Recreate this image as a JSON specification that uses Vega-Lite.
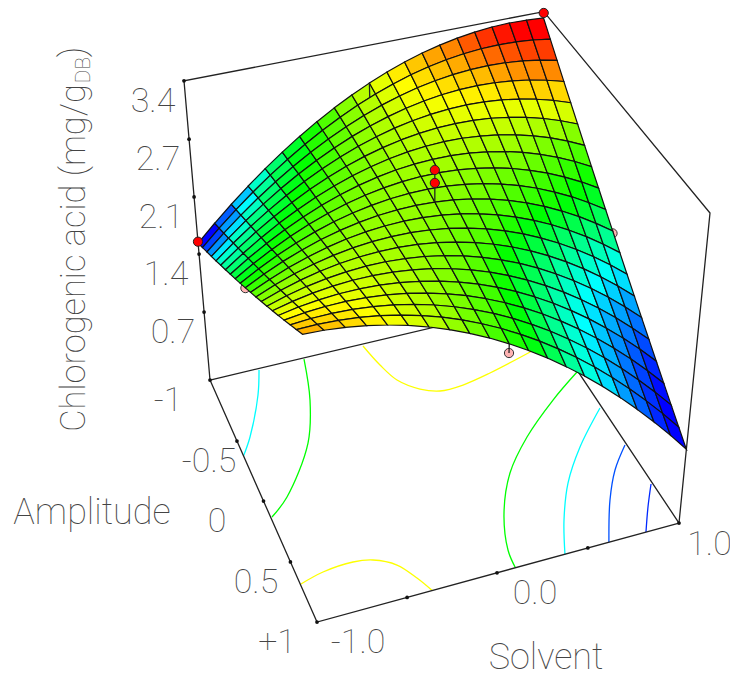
{"$schema":"https://vega.github.io/schema/vega-lite/v6.json","width":730,"height":676,"padding":0,"autosize":"none","background":"white","config":{"view":{"stroke":null}},
"data":{"values":[
{"s":-1,"a":-1,"v":1.553},{"s":-0.9,"a":-1,"v":1.745},{"s":-0.8,"a":-1,"v":1.926},{"s":-0.7,"a":-1,"v":2.096},{"s":-0.6,"a":-1,"v":2.256},{"s":-0.5,"a":-1,"v":2.404},{"s":-0.4,"a":-1,"v":2.542},{"s":-0.3,"a":-1,"v":2.669},{"s":-0.2,"a":-1,"v":2.785},{"s":-0.1,"a":-1,"v":2.89},{"s":0,"a":-1,"v":2.984},{"s":0.1,"a":-1,"v":3.067},{"s":0.2,"a":-1,"v":3.14},{"s":0.3,"a":-1,"v":3.202},{"s":0.4,"a":-1,"v":3.252},{"s":0.5,"a":-1,"v":3.292},{"s":0.6,"a":-1,"v":3.321},{"s":0.7,"a":-1,"v":3.34},{"s":0.8,"a":-1,"v":3.347},{"s":0.9,"a":-1,"v":3.343},{"s":1,"a":-1,"v":3.329},
{"s":-1,"a":-0.9,"v":1.623},{"s":-0.9,"a":-0.9,"v":1.808},{"s":-0.8,"a":-0.9,"v":1.981},{"s":-0.7,"a":-0.9,"v":2.143},{"s":-0.6,"a":-0.9,"v":2.295},{"s":-0.5,"a":-0.9,"v":2.434},{"s":-0.4,"a":-0.9,"v":2.563},{"s":-0.3,"a":-0.9,"v":2.681},{"s":-0.2,"a":-0.9,"v":2.787},{"s":-0.1,"a":-0.9,"v":2.882},{"s":0,"a":-0.9,"v":2.966},{"s":0.1,"a":-0.9,"v":3.039},{"s":0.2,"a":-0.9,"v":3.101},{"s":0.3,"a":-0.9,"v":3.151},{"s":0.4,"a":-0.9,"v":3.191},{"s":0.5,"a":-0.9,"v":3.219},{"s":0.6,"a":-0.9,"v":3.236},{"s":0.7,"a":-0.9,"v":3.242},{"s":0.8,"a":-0.9,"v":3.236},{"s":0.9,"a":-0.9,"v":3.22},{"s":1,"a":-0.9,"v":3.192},
{"s":-1,"a":-0.8,"v":1.694},{"s":-0.9,"a":-0.8,"v":1.871},{"s":-0.8,"a":-0.8,"v":2.037},{"s":-0.7,"a":-0.8,"v":2.191},{"s":-0.6,"a":-0.8,"v":2.333},{"s":-0.5,"a":-0.8,"v":2.464},{"s":-0.4,"a":-0.8,"v":2.584},{"s":-0.3,"a":-0.8,"v":2.692},{"s":-0.2,"a":-0.8,"v":2.788},{"s":-0.1,"a":-0.8,"v":2.874},{"s":0,"a":-0.8,"v":2.948},{"s":0.1,"a":-0.8,"v":3.01},{"s":0.2,"a":-0.8,"v":3.061},{"s":0.3,"a":-0.8,"v":3.1},{"s":0.4,"a":-0.8,"v":3.128},{"s":0.5,"a":-0.8,"v":3.145},{"s":0.6,"a":-0.8,"v":3.15},{"s":0.7,"a":-0.8,"v":3.144},{"s":0.8,"a":-0.8,"v":3.126},{"s":0.9,"a":-0.8,"v":3.097},{"s":1,"a":-0.8,"v":3.056},
{"s":-1,"a":-0.7,"v":1.766},{"s":-0.9,"a":-0.7,"v":1.935},{"s":-0.8,"a":-0.7,"v":2.092},{"s":-0.7,"a":-0.7,"v":2.238},{"s":-0.6,"a":-0.7,"v":2.372},{"s":-0.5,"a":-0.7,"v":2.494},{"s":-0.4,"a":-0.7,"v":2.604},{"s":-0.3,"a":-0.7,"v":2.703},{"s":-0.2,"a":-0.7,"v":2.79},{"s":-0.1,"a":-0.7,"v":2.865},{"s":0,"a":-0.7,"v":2.928},{"s":0.1,"a":-0.7,"v":2.98},{"s":0.2,"a":-0.7,"v":3.02},{"s":0.3,"a":-0.7,"v":3.049},{"s":0.4,"a":-0.7,"v":3.066},{"s":0.5,"a":-0.7,"v":3.071},{"s":0.6,"a":-0.7,"v":3.064},{"s":0.7,"a":-0.7,"v":3.046},{"s":0.8,"a":-0.7,"v":3.016},{"s":0.9,"a":-0.7,"v":2.974},{"s":1,"a":-0.7,"v":2.921},
{"s":-1,"a":-0.6,"v":1.839},{"s":-0.9,"a":-0.6,"v":2.0},{"s":-0.8,"a":-0.6,"v":2.148},{"s":-0.7,"a":-0.6,"v":2.285},{"s":-0.6,"a":-0.6,"v":2.41},{"s":-0.5,"a":-0.6,"v":2.523},{"s":-0.4,"a":-0.6,"v":2.624},{"s":-0.3,"a":-0.6,"v":2.713},{"s":-0.2,"a":-0.6,"v":2.79},{"s":-0.1,"a":-0.6,"v":2.855},{"s":0,"a":-0.6,"v":2.909},{"s":0.1,"a":-0.6,"v":2.95},{"s":0.2,"a":-0.6,"v":2.979},{"s":0.3,"a":-0.6,"v":2.997},{"s":0.4,"a":-0.6,"v":3.003},{"s":0.5,"a":-0.6,"v":2.996},{"s":0.6,"a":-0.6,"v":2.978},{"s":0.7,"a":-0.6,"v":2.948},{"s":0.8,"a":-0.6,"v":2.906},{"s":0.9,"a":-0.6,"v":2.852},{"s":1,"a":-0.6,"v":2.786},
{"s":-1,"a":-0.5,"v":1.913},{"s":-0.9,"a":-0.5,"v":2.065},{"s":-0.8,"a":-0.5,"v":2.205},{"s":-0.7,"a":-0.5,"v":2.332},{"s":-0.6,"a":-0.5,"v":2.448},{"s":-0.5,"a":-0.5,"v":2.552},{"s":-0.4,"a":-0.5,"v":2.643},{"s":-0.3,"a":-0.5,"v":2.723},{"s":-0.2,"a":-0.5,"v":2.79},{"s":-0.1,"a":-0.5,"v":2.845},{"s":0,"a":-0.5,"v":2.888},{"s":0.1,"a":-0.5,"v":2.919},{"s":0.2,"a":-0.5,"v":2.938},{"s":0.3,"a":-0.5,"v":2.944},{"s":0.4,"a":-0.5,"v":2.939},{"s":0.5,"a":-0.5,"v":2.922},{"s":0.6,"a":-0.5,"v":2.892},{"s":0.7,"a":-0.5,"v":2.85},{"s":0.8,"a":-0.5,"v":2.797},{"s":0.9,"a":-0.5,"v":2.731},{"s":1,"a":-0.5,"v":2.653},
{"s":-1,"a":-0.4,"v":1.987},{"s":-0.9,"a":-0.4,"v":2.13},{"s":-0.8,"a":-0.4,"v":2.261},{"s":-0.7,"a":-0.4,"v":2.38},{"s":-0.6,"a":-0.4,"v":2.486},{"s":-0.5,"a":-0.4,"v":2.58},{"s":-0.4,"a":-0.4,"v":2.662},{"s":-0.3,"a":-0.4,"v":2.732},{"s":-0.2,"a":-0.4,"v":2.789},{"s":-0.1,"a":-0.4,"v":2.834},{"s":0,"a":-0.4,"v":2.867},{"s":0.1,"a":-0.4,"v":2.887},{"s":0.2,"a":-0.4,"v":2.896},{"s":0.3,"a":-0.4,"v":2.892},{"s":0.4,"a":-0.4,"v":2.875},{"s":0.5,"a":-0.4,"v":2.847},{"s":0.6,"a":-0.4,"v":2.806},{"s":0.7,"a":-0.4,"v":2.753},{"s":0.8,"a":-0.4,"v":2.688},{"s":0.9,"a":-0.4,"v":2.61},{"s":1,"a":-0.4,"v":2.52},
{"s":-1,"a":-0.3,"v":2.062},{"s":-0.9,"a":-0.3,"v":2.197},{"s":-0.8,"a":-0.3,"v":2.318},{"s":-0.7,"a":-0.3,"v":2.427},{"s":-0.6,"a":-0.3,"v":2.524},{"s":-0.5,"a":-0.3,"v":2.609},{"s":-0.4,"a":-0.3,"v":2.681},{"s":-0.3,"a":-0.3,"v":2.741},{"s":-0.2,"a":-0.3,"v":2.788},{"s":-0.1,"a":-0.3,"v":2.823},{"s":0,"a":-0.3,"v":2.845},{"s":0.1,"a":-0.3,"v":2.855},{"s":0.2,"a":-0.3,"v":2.853},{"s":0.3,"a":-0.3,"v":2.838},{"s":0.4,"a":-0.3,"v":2.811},{"s":0.5,"a":-0.3,"v":2.772},{"s":0.6,"a":-0.3,"v":2.72},{"s":0.7,"a":-0.3,"v":2.656},{"s":0.8,"a":-0.3,"v":2.579},{"s":0.9,"a":-0.3,"v":2.49},{"s":1,"a":-0.3,"v":2.388},
{"s":-1,"a":-0.2,"v":2.138},{"s":-0.9,"a":-0.2,"v":2.263},{"s":-0.8,"a":-0.2,"v":2.375},{"s":-0.7,"a":-0.2,"v":2.475},{"s":-0.6,"a":-0.2,"v":2.562},{"s":-0.5,"a":-0.2,"v":2.637},{"s":-0.4,"a":-0.2,"v":2.699},{"s":-0.3,"a":-0.2,"v":2.749},{"s":-0.2,"a":-0.2,"v":2.786},{"s":-0.1,"a":-0.2,"v":2.811},{"s":0,"a":-0.2,"v":2.823},{"s":0.1,"a":-0.2,"v":2.822},{"s":0.2,"a":-0.2,"v":2.81},{"s":0.3,"a":-0.2,"v":2.784},{"s":0.4,"a":-0.2,"v":2.746},{"s":0.5,"a":-0.2,"v":2.696},{"s":0.6,"a":-0.2,"v":2.633},{"s":0.7,"a":-0.2,"v":2.558},{"s":0.8,"a":-0.2,"v":2.47},{"s":0.9,"a":-0.2,"v":2.37},{"s":1,"a":-0.2,"v":2.257},
{"s":-1,"a":-0.1,"v":2.215},{"s":-0.9,"a":-0.1,"v":2.33},{"s":-0.8,"a":-0.1,"v":2.433},{"s":-0.7,"a":-0.1,"v":2.523},{"s":-0.6,"a":-0.1,"v":2.6},{"s":-0.5,"a":-0.1,"v":2.665},{"s":-0.4,"a":-0.1,"v":2.717},{"s":-0.3,"a":-0.1,"v":2.756},{"s":-0.2,"a":-0.1,"v":2.783},{"s":-0.1,"a":-0.1,"v":2.798},{"s":0,"a":-0.1,"v":2.8},{"s":0.1,"a":-0.1,"v":2.789},{"s":0.2,"a":-0.1,"v":2.766},{"s":0.3,"a":-0.1,"v":2.73},{"s":0.4,"a":-0.1,"v":2.681},{"s":0.5,"a":-0.1,"v":2.62},{"s":0.6,"a":-0.1,"v":2.547},{"s":0.7,"a":-0.1,"v":2.46},{"s":0.8,"a":-0.1,"v":2.362},{"s":0.9,"a":-0.1,"v":2.25},{"s":1,"a":-0.1,"v":2.127},
{"s":-1,"a":0,"v":2.293},{"s":-0.9,"a":0,"v":2.398},{"s":-0.8,"a":0,"v":2.491},{"s":-0.7,"a":0,"v":2.57},{"s":-0.6,"a":0,"v":2.638},{"s":-0.5,"a":0,"v":2.692},{"s":-0.4,"a":0,"v":2.734},{"s":-0.3,"a":0,"v":2.764},{"s":-0.2,"a":0,"v":2.78},{"s":-0.1,"a":0,"v":2.785},{"s":0,"a":0,"v":2.776},{"s":0.1,"a":0,"v":2.755},{"s":0.2,"a":0,"v":2.721},{"s":0.3,"a":0,"v":2.675},{"s":0.4,"a":0,"v":2.616},{"s":0.5,"a":0,"v":2.544},{"s":0.6,"a":0,"v":2.46},{"s":0.7,"a":0,"v":2.363},{"s":0.8,"a":0,"v":2.254},{"s":0.9,"a":0,"v":2.132},{"s":1,"a":0,"v":1.997},
{"s":-1,"a":0.1,"v":2.372},{"s":-0.9,"a":0.1,"v":2.466},{"s":-0.8,"a":0.1,"v":2.549},{"s":-0.7,"a":0.1,"v":2.618},{"s":-0.6,"a":0.1,"v":2.675},{"s":-0.5,"a":0.1,"v":2.72},{"s":-0.4,"a":0.1,"v":2.751},{"s":-0.3,"a":0.1,"v":2.77},{"s":-0.2,"a":0.1,"v":2.777},{"s":-0.1,"a":0.1,"v":2.771},{"s":0,"a":0.1,"v":2.752},{"s":0.1,"a":0.1,"v":2.72},{"s":0.2,"a":0.1,"v":2.676},{"s":0.3,"a":0.1,"v":2.619},{"s":0.4,"a":0.1,"v":2.55},{"s":0.5,"a":0.1,"v":2.468},{"s":0.6,"a":0.1,"v":2.373},{"s":0.7,"a":0.1,"v":2.266},{"s":0.8,"a":0.1,"v":2.146},{"s":0.9,"a":0.1,"v":2.013},{"s":1,"a":0.1,"v":1.868},
{"s":-1,"a":0.2,"v":2.451},{"s":-0.9,"a":0.2,"v":2.535},{"s":-0.8,"a":0.2,"v":2.607},{"s":-0.7,"a":0.2,"v":2.666},{"s":-0.6,"a":0.2,"v":2.713},{"s":-0.5,"a":0.2,"v":2.747},{"s":-0.4,"a":0.2,"v":2.768},{"s":-0.3,"a":0.2,"v":2.776},{"s":-0.2,"a":0.2,"v":2.773},{"s":-0.1,"a":0.2,"v":2.756},{"s":0,"a":0.2,"v":2.727},{"s":0.1,"a":0.2,"v":2.685},{"s":0.2,"a":0.2,"v":2.63},{"s":0.3,"a":0.2,"v":2.563},{"s":0.4,"a":0.2,"v":2.484},{"s":0.5,"a":0.2,"v":2.391},{"s":0.6,"a":0.2,"v":2.286},{"s":0.7,"a":0.2,"v":2.169},{"s":0.8,"a":0.2,"v":2.039},{"s":0.9,"a":0.2,"v":1.896},{"s":1,"a":0.2,"v":1.74},
{"s":-1,"a":0.3,"v":2.531},{"s":-0.9,"a":0.3,"v":2.605},{"s":-0.8,"a":0.3,"v":2.666},{"s":-0.7,"a":0.3,"v":2.714},{"s":-0.6,"a":0.3,"v":2.75},{"s":-0.5,"a":0.3,"v":2.773},{"s":-0.4,"a":0.3,"v":2.784},{"s":-0.3,"a":0.3,"v":2.782},{"s":-0.2,"a":0.3,"v":2.768},{"s":-0.1,"a":0.3,"v":2.741},{"s":0,"a":0.3,"v":2.701},{"s":0.1,"a":0.3,"v":2.649},{"s":0.2,"a":0.3,"v":2.584},{"s":0.3,"a":0.3,"v":2.507},{"s":0.4,"a":0.3,"v":2.417},{"s":0.5,"a":0.3,"v":2.315},{"s":0.6,"a":0.3,"v":2.2},{"s":0.7,"a":0.3,"v":2.072},{"s":0.8,"a":0.3,"v":1.932},{"s":0.9,"a":0.3,"v":1.779},{"s":1,"a":0.3,"v":1.613},
{"s":-1,"a":0.4,"v":2.612},{"s":-0.9,"a":0.4,"v":2.675},{"s":-0.8,"a":0.4,"v":2.725},{"s":-0.7,"a":0.4,"v":2.762},{"s":-0.6,"a":0.4,"v":2.787},{"s":-0.5,"a":0.4,"v":2.8},{"s":-0.4,"a":0.4,"v":2.8},{"s":-0.3,"a":0.4,"v":2.787},{"s":-0.2,"a":0.4,"v":2.762},{"s":-0.1,"a":0.4,"v":2.725},{"s":0,"a":0.4,"v":2.675},{"s":0.1,"a":0.4,"v":2.612},{"s":0.2,"a":0.4,"v":2.537},{"s":0.3,"a":0.4,"v":2.45},{"s":0.4,"a":0.4,"v":2.35},{"s":0.5,"a":0.4,"v":2.237},{"s":0.6,"a":0.4,"v":2.112},{"s":0.7,"a":0.4,"v":1.975},{"s":0.8,"a":0.4,"v":1.825},{"s":0.9,"a":0.4,"v":1.662},{"s":1,"a":0.4,"v":1.487},
{"s":-1,"a":0.5,"v":2.694},{"s":-0.9,"a":0.5,"v":2.745},{"s":-0.8,"a":0.5,"v":2.784},{"s":-0.7,"a":0.5,"v":2.81},{"s":-0.6,"a":0.5,"v":2.824},{"s":-0.5,"a":0.5,"v":2.826},{"s":-0.4,"a":0.5,"v":2.815},{"s":-0.3,"a":0.5,"v":2.792},{"s":-0.2,"a":0.5,"v":2.756},{"s":-0.1,"a":0.5,"v":2.708},{"s":0,"a":0.5,"v":2.648},{"s":0.1,"a":0.5,"v":2.575},{"s":0.2,"a":0.5,"v":2.49},{"s":0.3,"a":0.5,"v":2.392},{"s":0.4,"a":0.5,"v":2.282},{"s":0.5,"a":0.5,"v":2.16},{"s":0.6,"a":0.5,"v":2.025},{"s":0.7,"a":0.5,"v":1.878},{"s":0.8,"a":0.5,"v":1.718},{"s":0.9,"a":0.5,"v":1.546},{"s":1,"a":0.5,"v":1.362},
{"s":-1,"a":0.6,"v":2.776},{"s":-0.9,"a":0.6,"v":2.816},{"s":-0.8,"a":0.6,"v":2.843},{"s":-0.7,"a":0.6,"v":2.858},{"s":-0.6,"a":0.6,"v":2.861},{"s":-0.5,"a":0.6,"v":2.852},{"s":-0.4,"a":0.6,"v":2.83},{"s":-0.3,"a":0.6,"v":2.796},{"s":-0.2,"a":0.6,"v":2.75},{"s":-0.1,"a":0.6,"v":2.691},{"s":0,"a":0.6,"v":2.621},{"s":0.1,"a":0.6,"v":2.537},{"s":0.2,"a":0.6,"v":2.442},{"s":0.3,"a":0.6,"v":2.334},{"s":0.4,"a":0.6,"v":2.215},{"s":0.5,"a":0.6,"v":2.082},{"s":0.6,"a":0.6,"v":1.938},{"s":0.7,"a":0.6,"v":1.781},{"s":0.8,"a":0.6,"v":1.612},{"s":0.9,"a":0.6,"v":1.431},{"s":1,"a":0.6,"v":1.237},
{"s":-1,"a":0.7,"v":2.86},{"s":-0.9,"a":0.7,"v":2.888},{"s":-0.8,"a":0.7,"v":2.903},{"s":-0.7,"a":0.7,"v":2.907},{"s":-0.6,"a":0.7,"v":2.898},{"s":-0.5,"a":0.7,"v":2.878},{"s":-0.4,"a":0.7,"v":2.845},{"s":-0.3,"a":0.7,"v":2.8},{"s":-0.2,"a":0.7,"v":2.743},{"s":-0.1,"a":0.7,"v":2.674},{"s":0,"a":0.7,"v":2.592},{"s":0.1,"a":0.7,"v":2.499},{"s":0.2,"a":0.7,"v":2.394},{"s":0.3,"a":0.7,"v":2.276},{"s":0.4,"a":0.7,"v":2.146},{"s":0.5,"a":0.7,"v":2.004},{"s":0.6,"a":0.7,"v":1.85},{"s":0.7,"a":0.7,"v":1.684},{"s":0.8,"a":0.7,"v":1.506},{"s":0.9,"a":0.7,"v":1.316},{"s":1,"a":0.7,"v":1.113},
{"s":-1,"a":0.8,"v":2.944},{"s":-0.9,"a":0.8,"v":2.96},{"s":-0.8,"a":0.8,"v":2.963},{"s":-0.7,"a":0.8,"v":2.955},{"s":-0.6,"a":0.8,"v":2.935},{"s":-0.5,"a":0.8,"v":2.903},{"s":-0.4,"a":0.8,"v":2.859},{"s":-0.3,"a":0.8,"v":2.803},{"s":-0.2,"a":0.8,"v":2.735},{"s":-0.1,"a":0.8,"v":2.655},{"s":0,"a":0.8,"v":2.564},{"s":0.1,"a":0.8,"v":2.46},{"s":0.2,"a":0.8,"v":2.344},{"s":0.3,"a":0.8,"v":2.217},{"s":0.4,"a":0.8,"v":2.077},{"s":0.5,"a":0.8,"v":1.926},{"s":0.6,"a":0.8,"v":1.763},{"s":0.7,"a":0.8,"v":1.588},{"s":0.8,"a":0.8,"v":1.4},{"s":0.9,"a":0.8,"v":1.201},{"s":1,"a":0.8,"v":0.99},
{"s":-1,"a":0.9,"v":3.029},{"s":-0.9,"a":0.9,"v":3.032},{"s":-0.8,"a":0.9,"v":3.024},{"s":-0.7,"a":0.9,"v":3.004},{"s":-0.6,"a":0.9,"v":2.972},{"s":-0.5,"a":0.9,"v":2.928},{"s":-0.4,"a":0.9,"v":2.873},{"s":-0.3,"a":0.9,"v":2.806},{"s":-0.2,"a":0.9,"v":2.727},{"s":-0.1,"a":0.9,"v":2.636},{"s":0,"a":0.9,"v":2.534},{"s":0.1,"a":0.9,"v":2.42},{"s":0.2,"a":0.9,"v":2.295},{"s":0.3,"a":0.9,"v":2.157},{"s":0.4,"a":0.9,"v":2.008},{"s":0.5,"a":0.9,"v":1.848},{"s":0.6,"a":0.9,"v":1.675},{"s":0.7,"a":0.9,"v":1.491},{"s":0.8,"a":0.9,"v":1.295},{"s":0.9,"a":0.9,"v":1.088},{"s":1,"a":0.9,"v":0.868},
{"s":-1,"a":1,"v":3.115},{"s":-0.9,"a":1,"v":3.106},{"s":-0.8,"a":1,"v":3.084},{"s":-0.7,"a":1,"v":3.052},{"s":-0.6,"a":1,"v":3.008},{"s":-0.5,"a":1,"v":2.953},{"s":-0.4,"a":1,"v":2.886},{"s":-0.3,"a":1,"v":2.808},{"s":-0.2,"a":1,"v":2.718},{"s":-0.1,"a":1,"v":2.617},{"s":0,"a":1,"v":2.504},{"s":0.1,"a":1,"v":2.38},{"s":0.2,"a":1,"v":2.245},{"s":0.3,"a":1,"v":2.097},{"s":0.4,"a":1,"v":1.939},{"s":0.5,"a":1,"v":1.769},{"s":0.6,"a":1,"v":1.587},{"s":0.7,"a":1,"v":1.394},{"s":0.8,"a":1,"v":1.19},{"s":0.9,"a":1,"v":0.975},{"s":1,"a":1,"v":0.747},
{"k":"box","g":1,"n":0,"s":-1,"a":-1,"v":-0.186},{"k":"box","g":1,"n":1,"s":-1,"a":1,"v":-0.186},{"k":"box","g":1,"n":2,"s":1,"a":1,"v":-0.186},{"k":"box","g":1,"n":3,"s":1,"a":-1,"v":-0.186},{"k":"box","g":1,"n":4,"s":-1,"a":-1,"v":-0.186},
{"k":"box","g":2,"n":0,"s":-1,"a":-1,"v":-0.186},{"k":"box","g":2,"n":1,"s":-1,"a":-1,"v":3.4},{"k":"box","g":2,"n":2,"s":1,"a":-1,"v":3.4},{"k":"box","g":2,"n":3,"s":1,"a":1,"v":3.4},{"k":"box","g":2,"n":4,"s":1,"a":1,"v":-0.186},
{"k":"tick","s":-1,"a":-1,"v":-0.186},{"k":"tick","s":-1,"a":-1,"v":0.7},{"k":"tick","s":-1,"a":-1,"v":1.42},{"k":"tick","s":-1,"a":-1,"v":2.1},{"k":"tick","s":-1,"a":-1,"v":2.76},{"k":"tick","s":-1,"a":-1,"v":3.4},
{"k":"tick","s":-1,"a":-0.443,"v":-0.186},{"k":"tick","s":-1,"a":0.068,"v":-0.186},{"k":"tick","s":-1,"a":0.552,"v":-0.186},{"k":"tick","s":-1,"a":1,"v":-0.186},
{"k":"tick","s":-0.522,"a":1,"v":-0.186},{"k":"tick","s":-0.032,"a":1,"v":-0.186},{"k":"tick","s":0.476,"a":1,"v":-0.186},{"k":"tick","s":1,"a":1,"v":-0.186},
{"k":"c","g":1,"l":1.39,"n":0,"s":-0.7122,"a":-0.9868,"v":-0.186},{"k":"c","g":1,"l":1.39,"n":1,"s":-0.7806,"a":-0.7766,"v":-0.186},{"k":"c","g":1,"l":1.39,"n":2,"s":-0.9234,"a":-0.4494,"v":-0.186},{"k":"c","g":1,"l":1.39,"n":3,"s":-1,"a":-0.3132,"v":-0.186},
{"k":"c","g":2,"l":2.04,"n":0,"s":-0.44,"a":-0.9902,"v":-0.186},{"k":"c","g":2,"l":2.04,"n":1,"s":-0.5178,"a":-0.6312,"v":-0.186},{"k":"c","g":2,"l":2.04,"n":2,"s":-0.6382,"a":-0.289,"v":-0.186},{"k":"c","g":2,"l":2.04,"n":3,"s":-0.8736,"a":0.0824,"v":-0.186},{"k":"c","g":2,"l":2.04,"n":4,"s":-0.993,"a":0.2008,"v":-0.186},
{"k":"c","g":3,"l":2.68,"n":0,"s":-0.0818,"a":-0.9824,"v":-0.186},{"k":"c","g":3,"l":2.68,"n":1,"s":-0.046,"a":-0.7836,"v":-0.186},{"k":"c","g":3,"l":2.68,"n":2,"s":0.001,"a":-0.6228,"v":-0.186},{"k":"c","g":3,"l":2.68,"n":3,"s":0.0968,"a":-0.502,"v":-0.186},{"k":"c","g":3,"l":2.68,"n":4,"s":0.1972,"a":-0.4454,"v":-0.186},{"k":"c","g":3,"l":2.68,"n":5,"s":0.3384,"a":-0.4484,"v":-0.186},{"k":"c","g":3,"l":2.68,"n":6,"s":0.5216,"a":-0.493,"v":-0.186},{"k":"c","g":3,"l":2.68,"n":7,"s":0.8238,"a":-0.592,"v":-0.186},
{"k":"c","g":4,"l":2.68,"n":0,"s":-0.9962,"a":0.7216,"v":-0.186},{"k":"c","g":4,"l":2.68,"n":1,"s":-0.865,"a":0.6802,"v":-0.186},{"k":"c","g":4,"l":2.68,"n":2,"s":-0.6982,"a":0.6666,"v":-0.186},{"k":"c","g":4,"l":2.68,"n":3,"s":-0.597,"a":0.6894,"v":-0.186},{"k":"c","g":4,"l":2.68,"n":4,"s":-0.4932,"a":0.767,"v":-0.186},{"k":"c","g":4,"l":2.68,"n":5,"s":-0.4286,"a":0.8902,"v":-0.186},{"k":"c","g":4,"l":2.68,"n":6,"s":-0.3862,"a":1,"v":-0.186},
{"k":"c","g":5,"l":2.04,"n":0,"s":0.9928,"a":-0.325,"v":-0.186},{"k":"c","g":5,"l":2.04,"n":1,"s":0.7674,"a":-0.1468,"v":-0.186},{"k":"c","g":5,"l":2.04,"n":2,"s":0.5102,"a":0.0908,"v":-0.186},{"k":"c","g":5,"l":2.04,"n":3,"s":0.3124,"a":0.3282,"v":-0.186},{"k":"c","g":5,"l":2.04,"n":4,"s":0.1658,"a":0.605,"v":-0.186},{"k":"c","g":5,"l":2.04,"n":5,"s":0.0822,"a":0.8678,"v":-0.186},{"k":"c","g":5,"l":2.04,"n":6,"s":0.07,"a":1,"v":-0.186},
{"k":"c","g":6,"l":1.39,"n":0,"s":0.9876,"a":0.0096,"v":-0.186},{"k":"c","g":6,"l":1.39,"n":1,"s":0.7514,"a":0.2696,"v":-0.186},{"k":"c","g":6,"l":1.39,"n":2,"s":0.575,"a":0.5116,"v":-0.186},{"k":"c","g":6,"l":1.39,"n":3,"s":0.4422,"a":0.7658,"v":-0.186},{"k":"c","g":6,"l":1.39,"n":4,"s":0.3468,"a":1,"v":-0.186},
{"k":"c","g":7,"l":0.95,"n":0,"s":0.9896,"a":0.3418,"v":-0.186},{"k":"c","g":7,"l":0.95,"n":1,"s":0.8546,"a":0.507,"v":-0.186},{"k":"c","g":7,"l":0.95,"n":2,"s":0.732,"a":0.7122,"v":-0.186},{"k":"c","g":7,"l":0.95,"n":3,"s":0.596,"a":1,"v":-0.186},
{"k":"c","g":8,"l":0.85,"n":0,"s":0.99,"a":0.6764,"v":-0.186},{"k":"c","g":8,"l":0.85,"n":1,"s":0.8988,"a":0.8324,"v":-0.186},{"k":"c","g":8,"l":0.85,"n":2,"s":0.8086,"a":1,"v":-0.186},
{"k":"pink","s":-1,"a":0,"v":2.29},{"k":"pink","s":0,"a":1,"v":2.404},{"k":"pink","s":1,"a":0,"v":1.97},
{"k":"red","s":-1,"a":-1,"v":1.57},{"k":"red","s":1,"a":-1,"v":3.385},{"k":"red","s":0,"a":0,"v":3.123},{"k":"red","s":0,"a":0,"v":2.984},
{"k":"stem","g":1,"n":0,"s":0,"a":0,"v":3.123},{"k":"stem","g":1,"n":1,"s":0,"a":0,"v":2.776},
{"k":"stem","g":2,"n":0,"s":0,"a":-1,"v":2.984},{"k":"stem","g":2,"n":1,"s":0,"a":-1,"v":2.826},
{"k":"stem","g":3,"n":0,"s":0,"a":1,"v":2.404},{"k":"stem","g":3,"n":1,"s":0,"a":1,"v":2.504},
{"k":"lab","t":"-1","s":-1.2712,"a":-0.9058,"v":-0.186},{"k":"lab","t":"-0.5","s":-1.19,"a":-0.3318,"v":-0.186},{"k":"lab","t":"0","s":-1.2752,"a":0.1348,"v":-0.186},{"k":"lab","t":"0.5","s":-1.2088,"a":0.634,"v":-0.186},{"k":"lab","t":"+1","s":-1.2278,"a":1.064,"v":-0.186},{"k":"name","t":"Amplitude","s":-1.8766,"a":-0.1644,"v":-0.186},
{"k":"lab","t":"-1.0","s":-0.8534,"a":1.205,"v":-0.186},{"k":"lab","t":"0.0","s":0.0926,"a":1.2066,"v":-0.186},{"k":"lab","t":"1.0","s":1.078,"a":1.2016,"v":-0.186},{"k":"name","t":"Solvent","s":-0.0226,"a":1.623,"v":-0.186},
{"k":"lab","t":"3.4","s":-0.5764,"a":-3.9994,"v":-0.186},{"k":"lab","t":"2.7","s":-0.7208,"a":-3.2944,"v":-0.186},{"k":"lab","t":"2.1","s":-0.8658,"a":-2.6482,"v":-0.186},{"k":"lab","t":"1.4","s":-0.9862,"a":-2.0556,"v":-0.186},{"k":"lab","t":"0.7","s":-1.0894,"a":-1.4916,"v":-0.186},
{"k":"title","t":"Chlorogenic acid (mg/g","s":-1.4682,"a":-2.4228,"v":-0.186},{"k":"title","t":")","s":-0.9398,"a":-4.8442,"v":-0.186},{"k":"sub","t":"DB","s":-0.9272,"a":-4.5786,"v":-0.186}
]},
"transform":[
{"calculate":"datum.v*0.2789+0.0518","as":"Z"},
{"calculate":"(datum.s+1)/2","as":"S"},
{"calculate":"(datum.a+1)/2","as":"A"},
{"calculate":"1+0.04764*datum.S-0.12695*datum.A-0.10369*datum.Z","as":"w"},
{"calculate":"(348.39*datum.S+66.76*datum.A-45.08*datum.Z+210)/datum.w","as":"px"},
{"calculate":"(-61.52*datum.S+163.04*datum.A-307.5*datum.Z+380)/datum.w","as":"py"}
],
"encoding":{
"x":{"field":"px","type":"quantitative","scale":{"domain":[0,730],"nice":false,"zero":false},"axis":null},
"y":{"field":"py","type":"quantitative","scale":{"domain":[676,0],"nice":false,"zero":false},"axis":null}
},
"layer":[
{"transform":[{"filter":"datum.k=='c'"}],"mark":{"type":"line","interpolate":"catmull-rom","strokeWidth":1.3},"encoding":{"detail":{"field":"g"},"order":{"field":"n","type":"quantitative"},"color":{"field":"l","type":"quantitative","legend":null,"scale":{"domain":[0.746,1.394,2.04,2.685,3.33],"range":["#0000ff","#00ffff","#00ff00","#ffff00","#ff0000"],"interpolate":"rgb"}}}},
{"transform":[{"filter":"datum.k=='box'"}],"mark":{"type":"line","color":"#222222","strokeWidth":1.3},"encoding":{"detail":{"field":"g"},"order":{"field":"n","type":"quantitative"}}},
{"transform":[{"filter":"datum.k=='tick'"}],"mark":{"type":"point","filled":true,"color":"#111111","size":14,"opacity":1}},
{"transform":[{"filter":"datum.k=='pink'"}],"mark":{"type":"point","filled":true,"fill":"#ffb3b3","stroke":"#333333","strokeWidth":1,"size":85,"opacity":1}},
{"transform":[{"filter":"!datum.k"},
{"calculate":"round((datum.s+1)*10)","as":"i"},{"calculate":"round((datum.a+1)*10)","as":"j"},
{"calculate":"[0,1,2,3]","as":"corner"},{"flatten":["corner"]},
{"calculate":"datum.i-((datum.corner==1||datum.corner==2)?1:0)","as":"ci"},
{"calculate":"datum.j-((datum.corner==2||datum.corner==3)?1:0)","as":"cj"},
{"filter":"datum.ci>=0&&datum.ci<20&&datum.cj>=0&&datum.cj<20"},
{"calculate":"datum.ci+100*datum.cj","as":"cell"},
{"joinaggregate":[{"op":"mean","field":"v","as":"mv"}],"groupby":["cell"]},
{"calculate":"-1+(datum.ci+0.5)/10","as":"cx"},{"calculate":"-1+(datum.cj+0.5)/10","as":"cy"},
{"calculate":"datum.mv+(-0.38+0.03*datum.cy)+(-0.05-0.1425*datum.cy+0.2825*datum.cy*datum.cy)*datum.cx+(0.13+0.1125*datum.cy+0.0175*datum.cy*datum.cy)*datum.cx*datum.cx-0.28*max(0,1-(pow(datum.cx-0.7,2)+pow(datum.cy-0.6,2))/0.4)-0.25*max(0,1-(pow(datum.cx+1,2)+pow(datum.cy+1,2))/0.16)+0.15*max(0,1-(pow(datum.cx-1,2)+pow(datum.cy+1,2))/0.3)","as":"shade"}
],"mark":{"type":"line","interpolate":"linear-closed","stroke":"#111111","strokeWidth":1.2},"encoding":{"detail":{"field":"cell"},"order":{"field":"corner","type":"quantitative"},"fill":{"field":"shade","type":"quantitative","legend":null,"scale":{"domain":[0.746,1.394,2.04,2.685,3.33],"range":["#0000ff","#00ffff","#00ff00","#ffff00","#ff0000"],"interpolate":"rgb"}}}},
{"transform":[{"filter":"datum.k=='stem'"}],"mark":{"type":"line","color":"#222222","strokeWidth":1.3},"encoding":{"detail":{"field":"g"},"order":{"field":"n","type":"quantitative"}}},
{"transform":[{"filter":"datum.k=='red'"}],"mark":{"type":"point","filled":true,"fill":"#ff0000","stroke":"#222222","strokeWidth":1,"size":85,"opacity":1}},
{"transform":[{"filter":"datum.k=='lab'"}],"mark":{"type":"text","font":"Roboto","fontWeight":100,"fontSize":34,"color":"#444444","align":"center","baseline":"middle"},"encoding":{"text":{"field":"t"}}},
{"transform":[{"filter":"datum.k=='name'"}],"mark":{"type":"text","font":"Roboto","fontWeight":100,"fontSize":36,"color":"#444444","align":"center","baseline":"middle"},"encoding":{"text":{"field":"t"}}},
{"transform":[{"filter":"datum.k=='title'"}],"mark":{"type":"text","font":"Roboto","fontWeight":100,"fontSize":34.5,"color":"#444444","align":"center","baseline":"middle","angle":270},"encoding":{"text":{"field":"t"}}},
{"transform":[{"filter":"datum.k=='sub'"}],"mark":{"type":"text","font":"Roboto","fontWeight":100,"fontSize":21,"color":"#444444","align":"center","baseline":"middle","angle":270},"encoding":{"text":{"field":"t"}}}
]}
